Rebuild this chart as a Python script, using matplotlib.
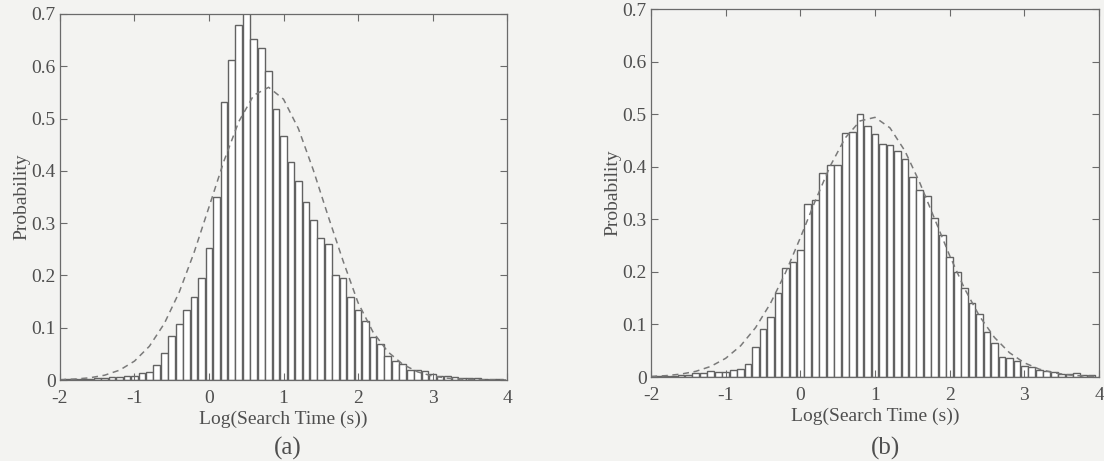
import numpy as np
import matplotlib.pyplot as plt

# Histogram bin centres, log10 of search time (s)
bin_centers = np.round(np.arange(-1.9, 3.95, 0.1), 1)

# (a) bar heights
prob_a = [0.001, 0.001, 0.001, 0.002, 0.003, 0.004, 0.006, 0.005, 0.008, 0.007,
          0.014, 0.015, 0.028, 0.051, 0.084, 0.107, 0.133, 0.158, 0.195, 0.252,
          0.350, 0.532, 0.612, 0.679, 0.710, 0.653, 0.635, 0.591, 0.518, 0.467,
          0.417, 0.380, 0.341, 0.306, 0.271, 0.261, 0.201, 0.196, 0.159, 0.133,
          0.113, 0.083, 0.069, 0.046, 0.037, 0.031, 0.019, 0.019, 0.018, 0.011,
          0.008, 0.008, 0.006, 0.004, 0.003, 0.003, 0.002, 0.002, 0.001]

# (b) bar heights
prob_b = [0.001, 0.002, 0.002, 0.003, 0.004, 0.007, 0.008, 0.012, 0.010, 0.010,
          0.013, 0.016, 0.025, 0.058, 0.091, 0.115, 0.160, 0.207, 0.219, 0.241,
          0.329, 0.336, 0.388, 0.404, 0.403, 0.464, 0.467, 0.501, 0.478, 0.463,
          0.444, 0.442, 0.430, 0.414, 0.381, 0.355, 0.345, 0.303, 0.270, 0.229,
          0.200, 0.169, 0.140, 0.120, 0.086, 0.065, 0.039, 0.036, 0.031, 0.020,
          0.019, 0.013, 0.011, 0.010, 0.006, 0.005, 0.008, 0.004, 0.003]

# Dashed fit curves, sampled every 0.2
fit_x = np.round(np.arange(-2.0, 4.01, 0.2), 1)
fit_a = [0.0007, 0.0018, 0.0042, 0.0092, 0.0188, 0.0361, 0.0645, 0.1078, 0.1678, 0.2439,
         0.3307, 0.4185, 0.4942, 0.5445, 0.5598, 0.5370, 0.4807, 0.4015, 0.3129, 0.2275,
         0.1480, 0.0920, 0.0540, 0.0300, 0.0155, 0.0075, 0.0035, 0.0015, 0.0006, 0.0002, 0.0001]
fit_b = [0.0012, 0.0026, 0.0055, 0.0108, 0.0202, 0.0356, 0.0594, 0.0939, 0.1402, 0.1982,
         0.2651, 0.3354, 0.4015, 0.4548, 0.4873, 0.4941, 0.4741, 0.4303, 0.3695, 0.3002,
         0.2308, 0.1679, 0.1155, 0.0752, 0.0463, 0.0270, 0.0149, 0.0078, 0.0038, 0.0018, 0.0008]

x_ticks = [-2, -1, 0, 1, 2, 3, 4]
y_ticks = [0, 0.1, 0.2, 0.3, 0.4, 0.5, 0.6, 0.7]
y_tick_labels = ['0', '0.1', '0.2', '0.3', '0.4', '0.5', '0.6', '0.7']

paper = '#f3f3f1'
ink = '#4f4f4f'

plt.rcParams['font.family'] = 'Liberation Serif'
plt.rcParams['font.size'] = 14

fig = plt.figure(figsize=(11.04, 4.61), dpi=100, facecolor=paper)

# axes boxes in figure fractions
ax_a = fig.add_axes([0.0543, 0.1757, 0.405, 0.794])
ax_b = fig.add_axes([0.5897, 0.1822, 0.4058, 0.798])

panels = [(ax_a, prob_a, fit_a, '(a)', 0.261), (ax_b, prob_b, fit_b, '(b)', 0.802)]

for ax, probs, fit, tag, tag_x in panels:
    ax.set_facecolor(paper)
    ax.bar(bin_centers, probs, width=0.09, color='white', edgecolor='#626262', linewidth=1.0)
    ax.plot(fit_x, fit, linestyle=(0, (4, 3)), color='#7a7a7a', linewidth=1.1)

    ax.set_xlim(-2, 4)
    ax.set_ylim(0, 0.7)
    ax.set_xticks(x_ticks)
    ax.set_xticklabels([str(t) for t in x_ticks])
    ax.set_yticks(y_ticks)
    ax.set_yticklabels(y_tick_labels)
    ax.tick_params(direction='in', top=True, right=True, length=5, width=0.8,
                   color='#6a6a6a', labelcolor=ink, labelsize=14)
    ax.tick_params(axis='y', pad=3)
    ax.tick_params(axis='x', pad=7)
    for side in ax.spines.values():
        side.set_color('#6a6a6a')
        side.set_linewidth(0.9)

    ax.set_xlabel('Log(Search Time (s))', color=ink, fontsize=14, labelpad=3)
    ax.set_ylabel('Probability', color=ink, fontsize=14, labelpad=1)
    fig.text(tag_x, 1 - 448 / 461, tag, ha='center', va='center', color=ink, fontsize=18)

plt.savefig('out.png', dpi=100, facecolor=paper)
